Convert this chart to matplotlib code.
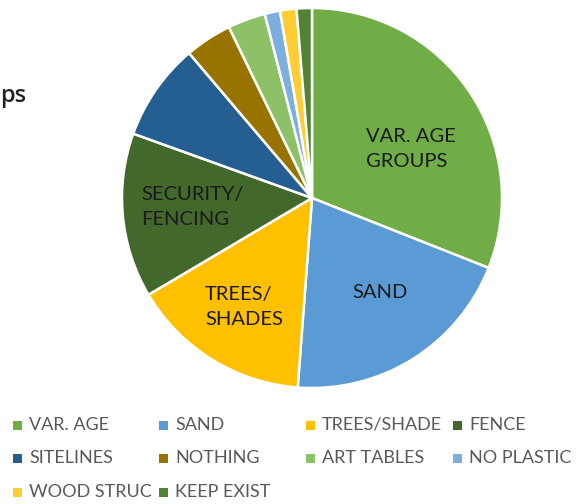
import matplotlib
matplotlib.use("Agg")
import matplotlib.pyplot as plt
import numpy as np

categories = ["VAR. AGE", "SAND", "TREES/SHADE", "FENCE", "SITELINES",
              "NOTHING", "ART TABLES", "NO PLASTIC", "WOOD STRUC", "KEEP EXIST"]
values = [31.0, 20.2, 15.3, 14.0, 8.3, 4.0, 3.2, 1.3, 1.4, 1.3]
colors = ["#70AD47", "#5B9BD5", "#FFC000", "#43682B", "#255E91",
          "#997300", "#8CC168", "#7CAFDD", "#FFCD33", "#548235"]
inner_labels = {0: "VAR. AGE\nGROUPS", 1: "SAND", 2: "TREES/\nSHADES", 3: "SECURITY/\nFENCING"}

W, H = 582, 504
fig = plt.figure(figsize=(W / 100, H / 100), dpi=100)
fig.patch.set_facecolor("white")

# pie axes: center (312,198) px, radius 190 px
cx, cy, r = 312, 198, 190
ax = fig.add_axes([(cx - r) / W, (H - cy - r) / H, 2 * r / W, 2 * r / H])
wedges, _ = ax.pie(values, colors=colors, startangle=90, counterclock=False,
                   radius=1.0, wedgeprops=dict(edgecolor="white", linewidth=1.8))
ax.set_xlim(-1.0, 1.0)
ax.set_ylim(-1.0, 1.0)
ax.set_aspect("equal")
ax.axis("off")

# inner labels (left edge, center y) in pixels
label_pos = {0: (366, 149), 1: (352, 292), 2: (205, 307), 3: (141, 207)}
for i, txt in inner_labels.items():
    px, py = label_pos[i]
    fig.text(px / W, (H - py) / H, txt, ha="left", va="center", fontsize=14.5,
             family="Lato", color="#1a1a1a", linespacing=1.6)

# title fragment
fig.text(0 / W, (H - 102) / H, "ps", ha="left", va="baseline", fontsize=17,
         family="Open Sans", fontweight="semibold", color="#222222")

# legend, row-first like Excel
col_x = [13, 159, 306, 453]
row_y = [425, 458, 492]
for i, (cat, col) in enumerate(zip(categories, colors)):
    rr, cc = divmod(i, 4)
    mx, my = col_x[cc], row_y[rr]
    fig.patches.append(plt.Rectangle((mx / W, (H - my - 4.5) / H), 9 / W, 9 / H,
                                     transform=fig.transFigure, facecolor=col,
                                     edgecolor="none"))
    fig.text((mx + 16) / W, (H - my) / H, cat, ha="left", va="center",
             fontsize=13, family="Lato", color="#595959")

fig.savefig("out.png", dpi=100)
